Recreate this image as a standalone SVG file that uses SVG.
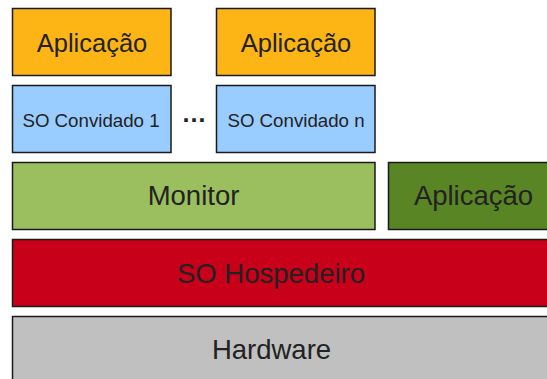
<svg xmlns="http://www.w3.org/2000/svg" width="547" height="379" viewBox="0 0 547 379">
<style>
rect{stroke:#1a1a1a;stroke-width:1.5}
text{font-family:"Liberation Sans",Arial,sans-serif;fill:#222;text-anchor:middle}
.app{fill:#FDB515}
.so{fill:#99CCFF}
.big{font-size:27.5px}
.mid{font-size:25.5px}
.sm{font-size:18.7px}
</style>
<rect x="0" y="0" width="547" height="379" fill="#fff" style="stroke:none"/>
<g id="app1"><rect class="app" x="12.5" y="8.5" width="158.5" height="67"/><text class="mid" x="92" y="52">Aplicação</text></g>
<g id="app2"><rect class="app" x="216.5" y="8.5" width="158.5" height="67"/><text class="mid" x="296" y="52">Aplicação</text></g>
<g id="guest1"><rect class="so" x="12.5" y="85.5" width="158.5" height="67"/><text class="sm" x="91" y="127">SO Convidado 1</text></g>
<g id="dots"><text x="194" y="122" style="font-size:25px;font-weight:bold">…</text></g>
<g id="guestn"><rect class="so" x="216.5" y="85.5" width="158.5" height="67"/><text class="sm" x="296" y="127">SO Convidado n</text></g>
<g id="monitor"><rect x="12.5" y="162.5" width="362.5" height="67" fill="#9BBF5E"/><text class="big" x="193.5" y="205">Monitor</text></g>
<g id="app3"><rect x="388.5" y="162.5" width="172" height="67" fill="#5A8525"/><text class="big" x="473.5" y="205">Aplicação</text></g>
<g id="host"><rect x="12.5" y="239.5" width="545" height="67" fill="#C8001A"/><text class="big" x="271" y="283">SO Hospedeiro</text></g>
<g id="hw"><rect x="12.5" y="316.5" width="545" height="80" fill="#C0C0C0"/><text class="big" x="271.5" y="359">Hardware</text></g>
<g id="connectors"></g>
</svg>
